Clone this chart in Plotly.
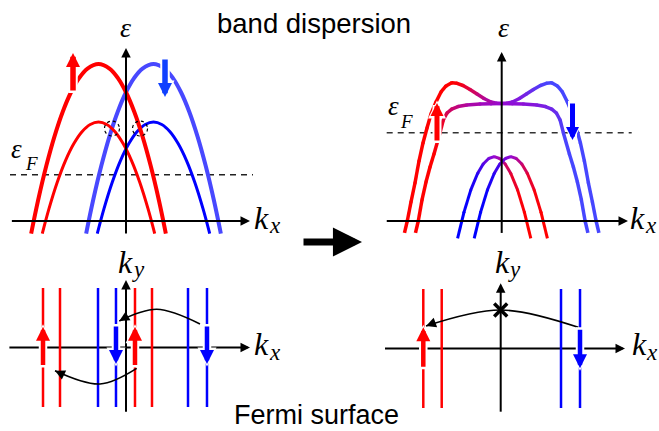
import plotly.graph_objects as go

W, H = 659, 431

# ======================= DATA =======================
# --- top-left: band dispersion before (k_x in units of band shift, energy in units of outer band top)
k_red_out  = [-3.449, -3.2, -2.9, -2.6, -2.3, -2.0, -1.7, -1.4, -1.0, -0.6, -0.3, 0.0, 0.3, 0.6, 0.9, 1.2, 1.449]
k_blue_out = [-1.449, -1.2, -0.9, -0.6, -0.3, 0.0, 0.3, 0.6, 1.0, 1.4, 1.7, 2.0, 2.3, 2.6, 2.9, 3.2, 3.449]
e_out      = [-0.08, 0.129, 0.350, 0.539, 0.696, 0.82, 0.912, 0.971, 1.0, 0.971, 0.912, 0.82, 0.696, 0.539, 0.350, 0.129, -0.08]
k_red_in   = [-3.044, -2.8, -2.5, -2.2, -1.9, -1.6, -1.3, -1.0, -0.7, -0.4, -0.1, 0.2, 0.5, 0.8, 1.044]
k_blue_in  = [-1.044, -0.8, -0.5, -0.2, 0.1, 0.4, 0.7, 1.0, 1.3, 1.6, 1.9, 2.2, 2.5, 2.8, 3.044]
e_in       = [-0.08, 0.079, 0.247, 0.385, 0.492, 0.569, 0.615, 0.63, 0.615, 0.569, 0.492, 0.385, 0.247, 0.079, -0.08]
eF_before  = 0.295
cross_k    = [-0.51, 0.51]
cross_e    = [0.589, 0.589]

# --- top-right: band dispersion after (spin s: +1 up/red, -1 down/blue)
k_top = [-3.535, -3.433, -3.298, -3.153, -3.007, -2.862, -2.716, -2.571, -2.389, -2.207, -2.025, -1.818,
         -1.625, -1.407, -1.153, -0.898, -0.644, -0.389, -0.189, 0.0,
         0.189, 0.389, 0.644, 0.898, 1.153, 1.407, 1.625,
         1.818, 2.025, 2.207, 2.389, 2.571, 2.716, 2.862, 3.007, 3.153, 3.298, 3.433, 3.535]
e_top = [-0.076, 0.0, 0.121, 0.242, 0.382, 0.497, 0.592, 0.682, 0.758, 0.822, 0.860, 0.881,
         0.877, 0.863, 0.838, 0.809, 0.780, 0.758, 0.750, 0.748,
         0.750, 0.758, 0.780, 0.809, 0.838, 0.863, 0.877,
         0.881, 0.860, 0.822, 0.758, 0.682, 0.592, 0.497, 0.382, 0.242, 0.121, 0.0, -0.076]
s_top = [1, 1, 1, 1, 1, 1, 1, 1, 1, 1, 1, 1,
         0.95, 0.85, 0.65, 0.45, 0.3, 0.15, 0.05, 0.0,
         -0.05, -0.15, -0.3, -0.45, -0.65, -0.85, -0.95,
         -1, -1, -1, -1, -1, -1, -1, -1, -1, -1, -1, -1]
k_mid = [-3.135, -3.033, -2.898, -2.753, -2.607, -2.462, -2.244, -2.124, -1.989, -1.818, -1.589, -1.273, -0.789, -0.389, 0.0,
         0.389, 0.789, 1.273, 1.589, 1.818, 1.989, 2.124, 2.244, 2.462, 2.607, 2.753, 2.898, 3.033, 3.135]
e_mid = [-0.076, 0.0, 0.134, 0.248, 0.344, 0.427, 0.561, 0.643, 0.688, 0.713, 0.729, 0.739, 0.745, 0.747, 0.748,
         0.747, 0.745, 0.739, 0.729, 0.713, 0.688, 0.643, 0.561, 0.427, 0.344, 0.248, 0.134, 0.0, -0.076]
s_mid = [1, 1, 1, 1, 1, 1, 0.9, 0.75, 0.6, 0.5, 0.38, 0.25, 0.12, 0.05, 0.0,
         -0.05, -0.12, -0.25, -0.38, -0.5, -0.6, -0.75, -0.9, -1, -1, -1, -1, -1, -1]
k_lowA = [-1.604, -1.373, -1.123, -0.873, -0.673, -0.473, -0.273, -0.073, 0.127, 0.327, 0.577, 0.827, 1.058]
k_lowB = [-1.0, -0.769, -0.519, -0.269, -0.069, 0.131, 0.331, 0.531, 0.731, 0.931, 1.181, 1.431, 1.662]
e_low  = [-0.110, 0.055, 0.198, 0.304, 0.363, 0.398, 0.410, 0.398, 0.363, 0.304, 0.198, 0.055, -0.110]
s_low  = [-1, -1, -0.9, -0.7, -0.45, -0.2, 0.0, 0.2, 0.45, 0.7, 0.9, 1, 1]
eF_after = 0.562

# --- Fermi surfaces (k_x positions of the lines, k_y extent)
fs_before_red  = [-3.018, -2.4, 0.327, 0.945]
fs_before_blue = [-1.018, -0.364, 2.255, 2.945]
fs_after_red   = [-2.815, -2.145]
fs_after_blue  = [2.193, 2.884]
fs_ky = [-1.0, 1.0]

# --- spin arrows: (k, tail, tip)
spin_TL_k, spin_TL_tail, spin_TL_tip, spin_TL_col = [-1.927, 1.418], [0.822, 1.038], [1.070, 0.790], ['#ff0000', '#1040ff']
spin_TR_k, spin_TR_tail, spin_TR_tip, spin_TR_col = [-2.353, 2.575], [0.503, 0.758], [0.752, 0.516], ['#ff0000', '#0000ff']
spin_BL_k, spin_BL_tail, spin_BL_tip, spin_BL_col = [-3.018, 0.327, -0.364, 2.945], [-0.32, -0.32, 0.378, 0.378], [0.35, 0.35, -0.277, -0.277], ['#ff0000', '#ff0000', '#0000ff', '#0000ff']
spin_BR_k, spin_BR_tail, spin_BR_tip, spin_BR_col = [-2.815, 2.884], [-0.333, 0.339], [0.356, -0.333], ['#ff0000', '#0000ff']

# --- scattering arcs (start, middle, end)
arc_BL1_k, arc_BL1_ky = [2.69, 1.116, -0.244], [0.395, 0.642, 0.445]
arc_BL2_k, arc_BL2_ky = [0.389, -0.945, -2.582], [-0.35, -0.613, -0.39]
arc_BR_k, arc_BR_ky = [2.822, 0.0, -2.716], [0.356, 0.647, 0.378]
blocked_k, blocked_ky = [0.0], [0.647]

# ======================= GEOMETRY =======================
P = {
    'TL': dict(ox=126.0, oy=221.0, sx=27.5, sy=157.0, box=(0, 315, 0, 240), xa='x', ya='y', n=''),
    'TR': dict(ox=501.7, oy=221.0, sx=27.5, sy=157.0, box=(318, 659, 0, 240), xa='x2', ya='y2', n='2'),
    'BL': dict(ox=126.0, oy=347.5, sx=27.5, sy=59.5, box=(0, 315, 240, 431), xa='x3', ya='y3', n='3'),
    'BR': dict(ox=500.7, oy=348.5, sx=27.5, sy=59.5, box=(318, 659, 240, 431), xa='x4', ya='y4', n='4'),
}
# axis extents in data units: (kx_min, kx_tip, v_min, v_tip)
AX = {'TL': (-4.15, 4.51, -0.08, 1.102), 'TR': (-4.18, 4.593, -0.076, 1.076),
      'BL': (-4.24, 4.51, -1.079, 1.134), 'BR': (-4.207, 4.52, -1.062, 1.096)}
EF_EXT = {'TL': (-4.218, 4.618), 'TR': (-4.182, 4.727)}

fig = go.Figure()
ann = []
shapes = []


def tr(panel, **kw):
    p = P[panel]
    kw.setdefault('hoverinfo', 'skip')
    kw.setdefault('showlegend', False)
    fig.add_trace(go.Scatter(xaxis=p['xa'], yaxis=p['ya'], **kw))


def spin_color(s, blue):
    R = (255, 0, 0)
    M = (150, 10, 210)
    if s >= 0:
        c = [M[i] + (R[i] - M[i]) * s for i in range(3)]
    else:
        c = [M[i] + (blue[i] - M[i]) * (-s) for i in range(3)]
    return 'rgb(%d,%d,%d)' % tuple(int(round(v)) for v in c)


def grad_curve(panel, k, e, s, blue, width):
    for i in range(len(k) - 1):
        tr(panel, x=[k[i], k[i + 1]], y=[e[i], e[i + 1]], mode='lines',
           line=dict(color=spin_color((s[i] + s[i + 1]) / 2, blue), width=width))
    tr(panel, x=k[1:-1], y=e[1:-1], mode='markers',
       marker=dict(color=[spin_color(v, blue) for v in s[1:-1]], size=width, line=dict(width=0)))


def axes(panel):
    p = P[panel]
    k0, k1, v0, v1 = AX[panel]
    tr(panel, x=[k0, k1 - 4 / p['sx']], y=[0, 0], mode='lines', line=dict(color='black', width=2))
    tr(panel, x=[0, 0], y=[v0, v1 - 4 / p['sy']], mode='lines', line=dict(color='black', width=2))
    for (x, y, dx, dy) in [(k1, 0, 10 / p['sx'], 0), (0, v1, 0, 10 / p['sy'])]:
        ann.append(dict(x=x, y=y, ax=x - dx, ay=y - dy, xref=p['xa'], yref=p['ya'], axref=p['xa'], ayref=p['ya'],
                        showarrow=True, arrowhead=2, arrowwidth=2, arrowsize=0.95, arrowcolor='black', text='',
                        standoff=0))


def spin_arrows(panel, ks, tails, tips, cols, w, head):
    p = P[panel]
    white, colored = [], []
    for k, t0, t1, c in zip(ks, tails, tips, cols):
        d = 1 if t1 > t0 else -1
        ext = 2.5 / p['sy']
        s = head / (5.0 * w)
        sw = (head + 5.0) / (5.0 * (w + 4))
        base = dict(xref=p['xa'], yref=p['ya'], axref=p['xa'], ayref=p['ya'], showarrow=True, arrowhead=2,
                    text='', standoff=0)
        white.append(dict(base, x=k, y=t1 + d * ext, ax=k, ay=t0 - d * ext, arrowwidth=w + 4, arrowsize=sw,
                          arrowcolor='white'))
        colored.append(dict(base, x=k, y=t1, ax=k, ay=t0, arrowwidth=w, arrowsize=s, arrowcolor=c))
    ann.extend(white)
    ann.extend(colored)


def arc(panel, ks, kys):
    p = P[panel]
    tr(panel, x=ks, y=kys, mode='lines', line=dict(color='black', width=1.6, shape='spline'))
    # arrowhead at the end, aligned with the spline end tangent (in pixels)
    px = [(k * p['sx'], -v * p['sy']) for k, v in zip(ks, kys)]
    cx = px[1][0] + 0.2 * (px[2][0] - px[0][0])
    cy = px[1][1] + 0.2 * (px[2][1] - px[0][1])
    dx, dy = px[2][0] - cx, px[2][1] - cy
    n = (dx * dx + dy * dy) ** 0.5
    tx = ks[2] - 8 * dx / n / p['sx']
    ty = kys[2] + 8 * dy / n / p['sy']
    ann.append(dict(x=ks[2], y=kys[2], ax=tx, ay=ty, xref=p['xa'], yref=p['ya'], axref=p['xa'], ayref=p['ya'],
                    showarrow=True, arrowhead=2, arrowwidth=1.6, arrowsize=1.25, arrowcolor='black', text='',
                    standoff=0))


# ---------------- top-left ----------------
tr('TL', x=list(EF_EXT['TL']), y=[eF_before, eF_before], mode='lines', line=dict(color='#222', width=1.4, dash='6px,5px'))
tr('TL', x=k_blue_in, y=e_in, mode='lines', line=dict(color='#0000ff', width=3, shape='spline'))
tr('TL', x=k_blue_out, y=e_out, mode='lines', line=dict(color='#4848ff', width=4, shape='spline'))
tr('TL', x=k_red_in, y=e_in, mode='lines', line=dict(color='#ff0000', width=3, shape='spline'))
tr('TL', x=k_red_out, y=e_out, mode='lines', line=dict(color='#ff0000', width=4, shape='spline'))
axes('TL')
for k, e in zip(cross_k, cross_e):
    shapes.append(dict(type='circle', xref='x', yref='y', x0=k - 7.5 / 27.5, x1=k + 7.5 / 27.5,
                       y0=e - 7.5 / 157, y1=e + 7.5 / 157, line=dict(color='black', width=1.2, dash='dot')))

# ---------------- top-right ----------------
tr('TR', x=list(EF_EXT['TR']), y=[eF_after, eF_after], mode='lines', line=dict(color='#333', width=1.4, dash='6px,5px'))
grad_curve('TR', k_lowA, e_low, s_low, (0, 0, 255), 3)
grad_curve('TR', k_lowB, e_low, s_low, (0, 0, 255), 3)
grad_curve('TR', k_mid, e_mid, s_mid, (70, 70, 255), 3.5)
grad_curve('TR', k_top, e_top, s_top, (70, 70, 255), 3.5)
axes('TR')

# ---------------- bottom-left ----------------
axes('BL')
for k in fs_before_red:
    tr('BL', x=[k, k], y=fs_ky, mode='lines', line=dict(color='#ff0000', width=2.5))
for k in fs_before_blue:
    tr('BL', x=[k, k], y=fs_ky, mode='lines', line=dict(color='#0000ff', width=2.5))

# ---------------- bottom-right ----------------
axes('BR')
for k in fs_after_red:
    tr('BR', x=[k, k], y=fs_ky, mode='lines', line=dict(color='#ff0000', width=2.5))
for k in fs_after_blue:
    tr('BR', x=[k, k], y=fs_ky, mode='lines', line=dict(color='#0000ff', width=2.5))

spin_arrows('TL', spin_TL_k, spin_TL_tail, spin_TL_tip, spin_TL_col, 5.5, 14)
spin_arrows('TR', spin_TR_k, spin_TR_tail, spin_TR_tip, spin_TR_col, 5, 13)
spin_arrows('BL', spin_BL_k, spin_BL_tail, spin_BL_tip, spin_BL_col, 4.5, 14)
spin_arrows('BR', spin_BR_k, spin_BR_tail, spin_BR_tip, spin_BR_col, 4.5, 14)

arc('BL', arc_BL1_k, arc_BL1_ky)
arc('BL', arc_BL2_k, arc_BL2_ky)
arc('BR', arc_BR_k, arc_BR_ky)
tr('BR', x=blocked_k, y=blocked_ky, mode='markers',
   marker=dict(symbol='x-thin', size=13, color='black', line=dict(color='black', width=3.5)))

# ---------------- big arrow & texts (paper, pixel positions) ----------------
ann.append(dict(x=362 / W, y=1 - 242 / H, xref='paper', yref='paper', ax=-60, ay=0, showarrow=True,
                arrowhead=2, arrowwidth=7, arrowsize=0.83, arrowcolor='black', text='', standoff=0))

SERIF, SANS = 'Liberation Serif', 'Liberation Sans'


def label(text, cx, baseline, fs, fam=SERIF, italic=True):
    asc, desc = (0.891, 0.216) if fam == SERIF else (0.905, 0.212)
    cy = baseline - (asc - desc) / 2 * fs
    t = '<i>%s</i>' % text if italic else text
    ann.append(dict(text=t, x=cx / W, y=1 - cy / H, xref='paper', yref='paper', showarrow=False,
                    xanchor='center', yanchor='middle', borderpad=0, borderwidth=0,
                    font=dict(family=fam, size=fs, color='black')))


label('band dispersion', 313.5, 33, 27.5, SANS, False)
label('Fermi surface', 316, 424, 27, SANS, False)
# epsilon labels
label('ε', 125, 37, 28)
label('ε', 503, 37, 28)
label('ε', 16, 158, 27)
label('F', 31, 170, 19)
label('ε', 393, 115, 27)
label('F', 406, 128, 19)
# k labels
for (kx, kb, sx_, sb, sub) in [(261, 229, 275, 233, 'x'), (637.5, 229, 650.5, 233, 'x'),
                               (261, 355, 275, 360, 'x'), (639.5, 355, 652, 360, 'x'),
                               (125, 273, 138.5, 277, 'y'), (502, 273, 514, 277, 'y')]:
    label('k', kx, kb, 32)
    label(sub, sx_, sb, 23)

layout = dict(width=W, height=H, margin=dict(l=0, r=0, t=0, b=0), plot_bgcolor='white', paper_bgcolor='white',
              showlegend=False, hovermode=False, annotations=ann, shapes=shapes)
for name, p in P.items():
    x0, x1, y0, y1 = p['box']
    layout['xaxis' + p['n']] = dict(domain=[x0 / W, x1 / W], range=[(x0 - p['ox']) / p['sx'], (x1 - p['ox']) / p['sx']],
                                    visible=False, anchor=p['ya'], fixedrange=True)
    layout['yaxis' + p['n']] = dict(domain=[1 - y1 / H, 1 - y0 / H], range=[(p['oy'] - y1) / p['sy'], (p['oy'] - y0) / p['sy']],
                                    visible=False, anchor=p['xa'], fixedrange=True)
fig.update_layout(**layout)
fig.write_html('out.html', config={'staticPlot': True},
               post_script="document.body.style.margin='0px';document.body.style.overflow='hidden';")
